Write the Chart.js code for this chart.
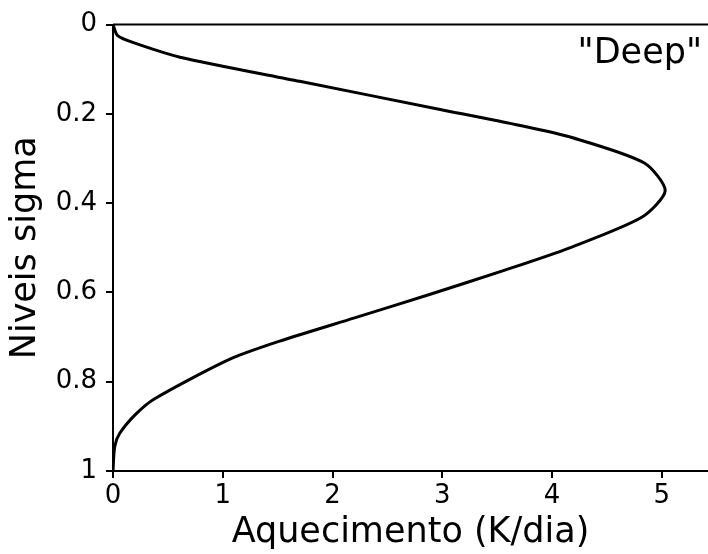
<!DOCTYPE html>
<html>
<head>
<meta charset="utf-8">
<script src="https://cdn.jsdelivr.net/npm/chart.js@4"></script>
<style>
  html, body { margin: 0; padding: 0; background: #fff; }
  #wrap { width: 708px; height: 554px; }
</style>
</head>
<body>
<div id="wrap"><canvas id="grafico"></canvas></div>
<script>
// perfil de aquecimento "Deep"
const aquecimento = [0, 0.04, 0.18, 0.61, 1.70, 2.98, 3.71, 4.18, 4.84, 5.03, 4.82, 4.16, 3.57, 2.89, 2.20, 1.52, 1.06, 0.38, 0.21, 0.06, 0.015, 0];
const sigma       = [0, 0.024, 0.04, 0.073, 0.127, 0.19, 0.226, 0.253, 0.31, 0.372, 0.431, 0.50, 0.55, 0.604, 0.657, 0.709, 0.75, 0.838, 0.872, 0.916, 0.946, 1.0];

const xTicks = [0, 1, 2, 3, 4, 5];
const yTicks = [0, 0.2, 0.4, 0.6, 0.8, 1];
const xLabels = ['0', '1', '2', '3', '4', '5'];
const yLabels = ['0', '0.2', '0.4', '0.6', '0.8', '1'];

const fonte = 'DejaVu Sans';

// linha superior e texto "Deep"
const extras = {
    id: 'extras',
    afterDraw(chart) {
        const ctx = chart.ctx;
        const area = chart.chartArea;
        ctx.save();
        ctx.strokeStyle = '#000';
        ctx.lineWidth = 2;
        ctx.beginPath();
        ctx.moveTo(area.left, area.top);
        ctx.lineTo(chart.width, area.top);
        ctx.stroke();
        ctx.fillStyle = '#000';
        ctx.font = '35px "' + fonte + '"';
        ctx.textAlign = 'right';
        ctx.textBaseline = 'alphabetic';
        ctx.fillText('"Deep"', 702, 63);
        ctx.restore();
    }
};

const pontos = aquecimento.map((v, i) => ({ x: v, y: sigma[i] }));

new Chart(document.getElementById('grafico'), {
    type: 'scatter',
    data: {
        datasets: [{
            data: pontos,
            showLine: true,
            borderColor: '#000',
            borderWidth: 3,
            pointRadius: 0,
            tension: 0.25,
            fill: false
        }]
    },
    options: {
        responsive: true,
        maintainAspectRatio: false,
        animation: false,
        layout: { padding: { top: 21, right: 0, left: 0, bottom: 0 } },
        plugins: {
            legend: { display: false },
            tooltip: { enabled: false }
        },
        scales: {
            x: {
                type: 'linear',
                min: 0,
                max: 5.42,
                afterBuildTicks: s => { s.ticks = xTicks.map(v => ({ value: v })); },
                afterFit: s => { s.height = 83; },
                grid: { display: true, drawOnChartArea: false, drawTicks: true, tickLength: 7, color: '#000', lineWidth: 2 },
                border: { display: true, color: '#000', width: 2 },
                ticks: {
                    color: '#000',
                    padding: 3,
                    maxRotation: 0,
                    font: { family: fonte, size: 26 },
                    callback: (v, i) => xLabels[i]
                },
                title: {
                    display: true,
                    text: 'Aquecimento (K/dia)',
                    color: '#000',
                    padding: 0,
                    font: { family: fonte, size: 35 }
                }
            },
            y: {
                type: 'linear',
                reverse: true,
                min: 0,
                max: 1,
                afterBuildTicks: s => { s.ticks = yTicks.map(v => ({ value: v })); },
                afterFit: s => { s.width = 113; },
                grid: { display: true, drawOnChartArea: false, drawTicks: true, tickLength: 7, color: '#000', lineWidth: 2 },
                border: { display: true, color: '#000', width: 2 },
                ticks: {
                    color: '#000',
                    padding: 9,
                    font: { family: fonte, size: 26 },
                    callback: (v, i) => yLabels[i]
                },
                title: {
                    display: true,
                    text: 'Niveis sigma',
                    color: '#000',
                    padding: { top: 5, bottom: 0 },
                    font: { family: fonte, size: 35 }
                }
            }
        }
    },
    plugins: [extras]
});
</script>
</body>
</html>
